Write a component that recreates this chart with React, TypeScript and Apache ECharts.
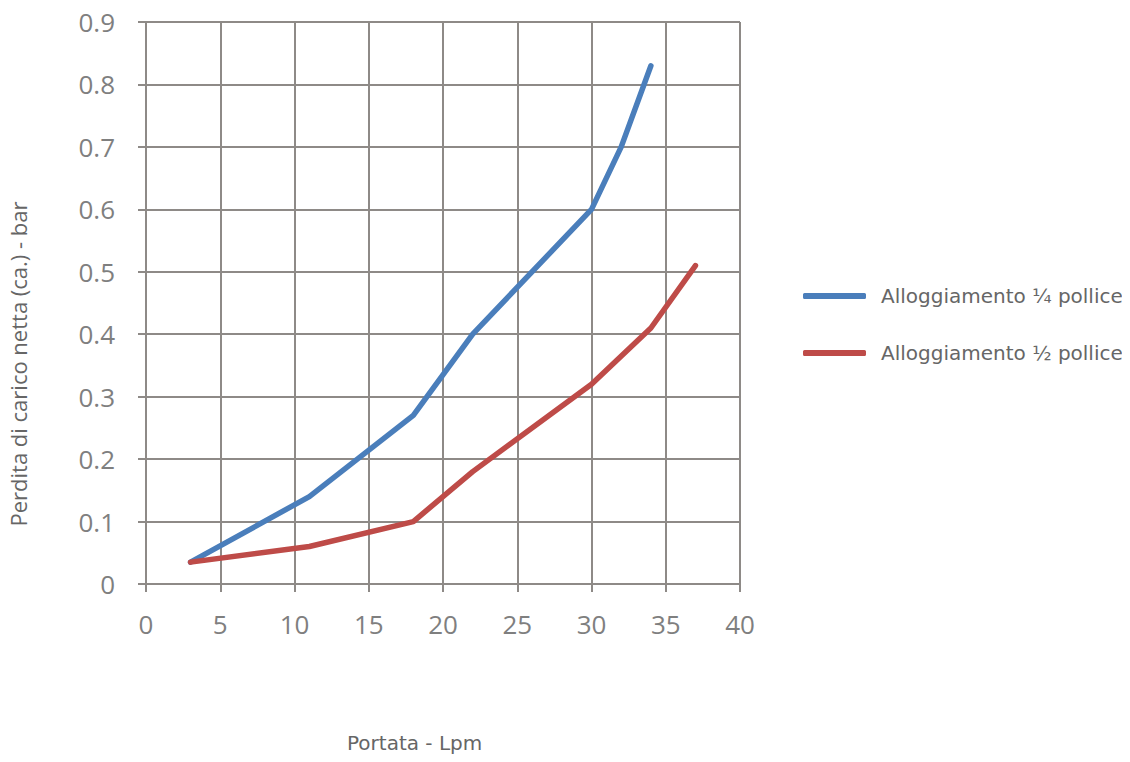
import React, { useEffect, useRef } from "react";
import * as echarts from "echarts";

const xQuarter = [3, 11, 18, 22, 30, 32, 34];
const yQuarter = [0.035, 0.14, 0.27, 0.4, 0.6, 0.7, 0.83];
const xHalf = [3, 11, 18, 22, 30, 34, 37];
const yHalf = [0.035, 0.06, 0.1, 0.18, 0.32, 0.41, 0.51];
const seriesNames = ["Alloggiamento ¼ pollice", "Alloggiamento ½ pollice"];
const xAxisTitle = "Portata - Lpm";
const yAxisTitle = "Perdita di carico netta (ca.) - bar";

const GRID = "#8e8a87";
const TEXT = "#7f7f7f";

export default function App() {
  const ref = useRef<HTMLDivElement>(null);
  useEffect(() => {
    const chart = echarts.init(ref.current!, null, { renderer: "svg" });
    chart.setOption({
      animation: false,
      backgroundColor: "#ffffff",
      grid: { left: 146, right: 390, top: 22, bottom: 178 },
      xAxis: {
        type: "value",
        min: 0,
        max: 40,
        interval: 5,
        axisLine: { show: true, onZero: false, lineStyle: { color: GRID, width: 2 } },
        axisTick: { show: true, length: 8, lineStyle: { color: GRID, width: 2 } },
        splitLine: { show: true, lineStyle: { color: GRID, width: 2 } },
        axisLabel: { color: TEXT, fontFamily: "Open Sans", fontSize: 26, margin: 27 },
      },
      yAxis: {
        type: "value",
        min: 0,
        max: 0.9,
        interval: 0.1,
        axisLine: { show: true, lineStyle: { color: GRID, width: 2 } },
        axisTick: { show: true, length: 8, lineStyle: { color: GRID, width: 2 } },
        splitLine: { show: true, lineStyle: { color: GRID, width: 2 } },
        axisLabel: {
          color: TEXT,
          fontFamily: "Open Sans",
          fontSize: 26,
          margin: 31,
          formatter: (v: number) => (Math.round(v * 10) / 10).toString(),
        },
      },
      legend: {
        orient: "vertical",
        left: 803,
        top: 286,
        padding: 0,
        itemWidth: 63,
        itemHeight: 6,
        itemGap: 37,
        icon: "roundRect",
        textStyle: { color: "#666666", fontFamily: "DejaVu Sans", fontSize: 20, padding: [0, 0, 0, 10] },
        data: seriesNames,
      },
      graphic: [
        {
          type: "text",
          x: 347,
          y: 733,
          style: { text: xAxisTitle, fill: "#666666", font: "20px 'DejaVu Sans'", verticalAlign: "top" },
        },
        {
          type: "text",
          x: 7,
          y: 364,
          rotation: Math.PI / 2,
          style: {
            text: yAxisTitle,
            fill: "#666666",
            font: "22px 'Open Sans'",
            align: "center",
            verticalAlign: "top",
          },
        },
      ],
      series: [
        {
          name: seriesNames[0],
          type: "line",
          data: xQuarter.map((x, i) => [x, yQuarter[i]]),
          showSymbol: false,
          smooth: false,
          lineStyle: { color: "#4a7ebb", width: 5.5, cap: "round", join: "round" },
          itemStyle: { color: "#4a7ebb" },
        },
        {
          name: seriesNames[1],
          type: "line",
          data: xHalf.map((x, i) => [x, yHalf[i]]),
          showSymbol: false,
          smooth: false,
          lineStyle: { color: "#be4b48", width: 5.5, cap: "round", join: "round" },
          itemStyle: { color: "#be4b48" },
        },
      ],
    });
    return () => chart.dispose();
  }, []);
  return <div ref={ref} style={{ width: 1130, height: 762, margin: -8 }} />;
}
